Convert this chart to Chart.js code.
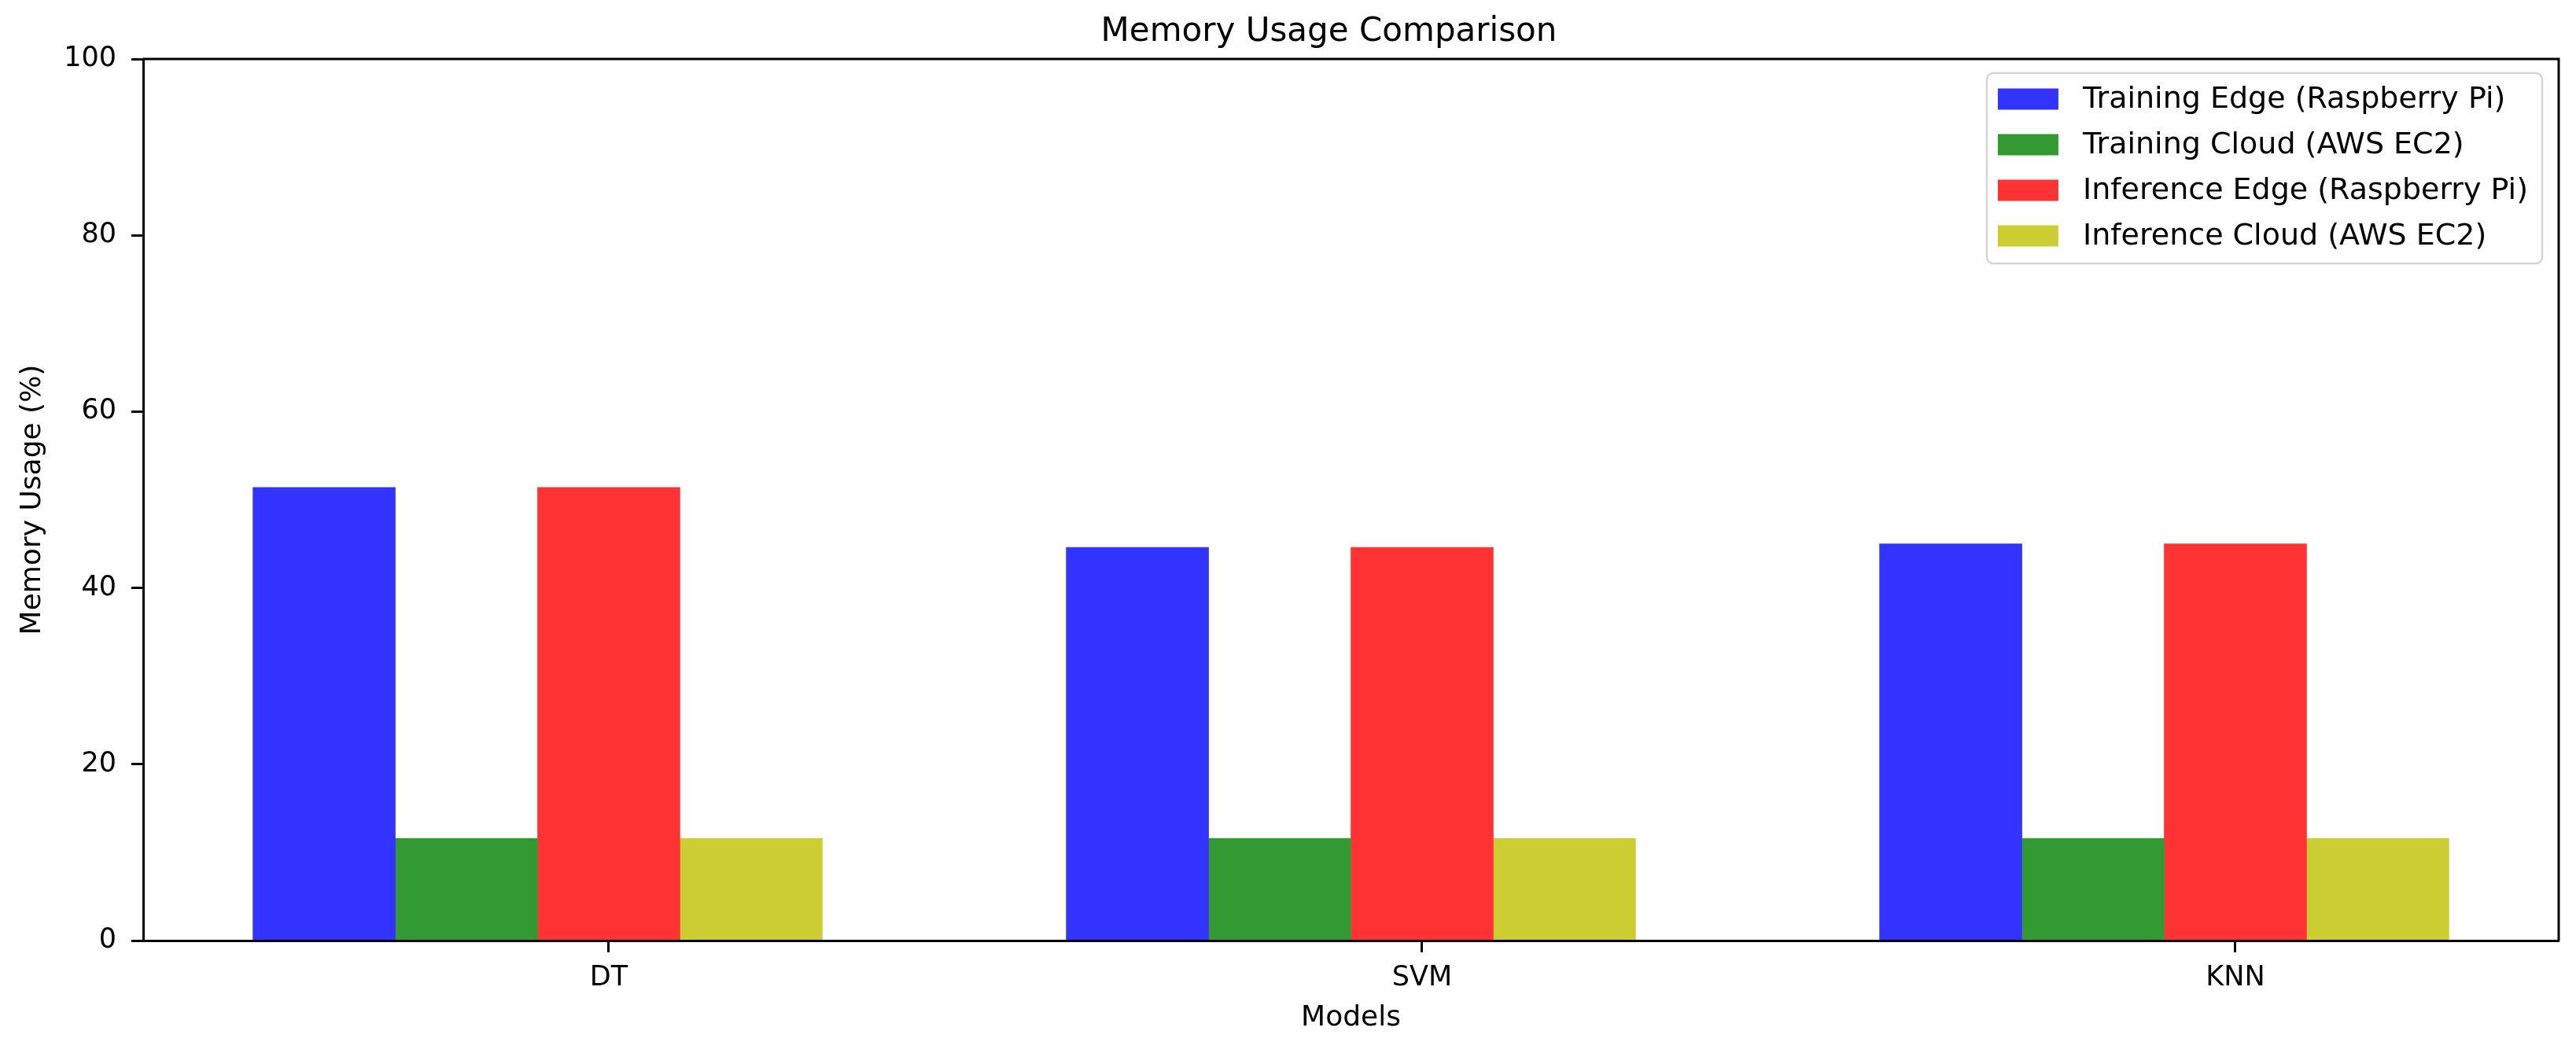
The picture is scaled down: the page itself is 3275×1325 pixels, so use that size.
<!DOCTYPE html>
<html>
<head>
<meta charset="utf-8">
<title>Memory Usage Comparison</title>
<script src="https://cdn.jsdelivr.net/npm/chart.js@4.4.1/dist/chart.umd.min.js"></script>
<style>
  html, body { margin: 0; padding: 0; background: #ffffff; }
  canvas { display: block; }
</style>
</head>
<body>
<canvas id="memoryChart" width="3275" height="1325"></canvas>
<script>
// Chart data
const models = ['DT', 'SVM', 'KNN'];
const seriesNames = [
    'Training Edge (Raspberry Pi)',
    'Training Cloud (AWS EC2)',
    'Inference Edge (Raspberry Pi)',
    'Inference Cloud (AWS EC2)'
];
const trainingEdge = [51.4, 44.6, 45.0];
const trainingCloud = [11.6, 11.6, 11.6];
const inferenceEdge = [51.4, 44.6, 45.0];
const inferenceCloud = [11.6, 11.6, 11.6];
const yTicks = [0, 20, 40, 60, 80, 100];
const chartTitle = 'Memory Usage Comparison';

const seriesColors = ['#3333ff', '#339933', '#ff3333', '#cccc33'];
const FONT = "'DejaVu Sans', sans-serif";

// bars sit side by side, third bar centred on the tick
const barWidth = 0.175;
const barOffsets = [-2, -1, 0, 1].map(k => k * barWidth);

// x range with a 5% margin like matplotlib
const lo = barOffsets[0] - barWidth / 2;
const hi = (models.length - 1) + barOffsets[3] + barWidth / 2;
const margin = (hi - lo) * 0.05;

function toPoints(values, offset) {
    return values.map((v, i) => ({ x: i + offset, y: v }));
}

const seriesValues = [trainingEdge, trainingCloud, inferenceEdge, inferenceCloud];

// title, plus top / right spines
const framePlugin = {
    id: 'frame',
    afterDraw(chart) {
        const { ctx, chartArea } = chart;
        ctx.save();
        ctx.strokeStyle = '#000000';
        ctx.lineWidth = 3;
        ctx.beginPath();
        ctx.moveTo(chartArea.left, chartArea.top);
        ctx.lineTo(chartArea.right, chartArea.top);
        ctx.lineTo(chartArea.right, chartArea.bottom);
        ctx.stroke();

        ctx.font = '42px ' + FONT;
        ctx.fillStyle = '#000000';
        ctx.textAlign = 'center';
        ctx.textBaseline = 'alphabetic';
        ctx.fillText(chartTitle, (chartArea.left + chartArea.right) / 2 - 28, chartArea.top - 23);
        ctx.restore();
    }
};

// matplotlib style legend in the upper right corner
const legendPlugin = {
    id: 'boxLegend',
    afterDraw(chart) {
        const { ctx, chartArea } = chart;
        const datasets = chart.data.datasets;
        ctx.save();
        ctx.font = '38px ' + FONT;
        let maxText = 0;
        datasets.forEach(ds => {
            maxText = Math.max(maxText, ctx.measureText(ds.label).width);
        });
        const patchW = 77, patchH = 27, rowGap = 58;
        const padL = 14, gap = 31, padR = 18;
        const boxW = padL + patchW + gap + maxText + padR;
        const boxH = 242;
        const boxX = chartArea.right - 21 - boxW;
        const boxY = chartArea.top + 18;

        ctx.beginPath();
        ctx.roundRect(boxX, boxY, boxW, boxH, 8);
        ctx.fillStyle = 'rgba(255,255,255,0.8)';
        ctx.fill();
        ctx.strokeStyle = '#d6d6d6';
        ctx.lineWidth = 2.5;
        ctx.stroke();

        datasets.forEach((ds, i) => {
            const cy = boxY + 33 + i * rowGap;
            ctx.fillStyle = ds.backgroundColor;
            ctx.fillRect(boxX + padL, cy - patchH / 2, patchW, patchH);
            ctx.fillStyle = '#000000';
            ctx.textBaseline = 'middle';
            ctx.textAlign = 'left';
            ctx.fillText(ds.label, boxX + padL + patchW + gap, cy + 1);
        });
        ctx.restore();
    }
};

const ctx = document.getElementById('memoryChart').getContext('2d');
const memoryChart = new Chart(ctx, {
    type: 'bar',
    data: {
        datasets: seriesNames.map((name, s) => ({
            label: name,
            data: toPoints(seriesValues[s], barOffsets[s]),
            backgroundColor: seriesColors[s],
            borderWidth: 0,
            grouped: false,
            barPercentage: 1,
            categoryPercentage: 1
        }))
    },
    options: {
        responsive: false,
        animation: false,
        layout: {
            padding: { left: 0, right: 22, top: 75, bottom: 0 }
        },
        plugins: {
            legend: { display: false },
            tooltip: { enabled: false },
            title: { display: false }
        },
        scales: {
            x: {
                type: 'linear',
                offset: false,
                min: lo - margin,
                max: hi + margin,
                afterBuildTicks(scale) {
                    scale.ticks = models.map((m, i) => ({ value: i }));
                },
                afterFit(scale) {
                    scale.height = 129;
                },
                ticks: {
                    autoSkip: false,
                    maxRotation: 0,
                    color: '#000000',
                    padding: 12,
                    font: { family: FONT, size: 35 },
                    callback: function(value) {
                        return models[value];
                    }
                },
                grid: {
                    display: true,
                    drawOnChartArea: false,
                    offset: false,
                    tickLength: 15,
                    tickWidth: 3,
                    tickColor: '#000000'
                },
                border: { display: true, color: '#000000', width: 3, z: 1 },
                title: {
                    display: true,
                    text: 'Models',
                    color: '#000000',
                    font: { family: FONT, size: 36 },
                    padding: { top: 0, bottom: 9 }
                }
            },
            y: {
                min: 0,
                max: 100,
                afterBuildTicks(scale) {
                    scale.ticks = yTicks.map(v => ({ value: v }));
                },
                afterFit(scale) {
                    scale.width = 182;
                },
                ticks: {
                    color: '#000000',
                    padding: 19,
                    font: { family: FONT, size: 35 }
                },
                grid: {
                    display: true,
                    drawOnChartArea: false,
                    tickLength: 15,
                    tickWidth: 3,
                    tickColor: '#000000'
                },
                border: { display: true, color: '#000000', width: 3, z: 1 },
                title: {
                    display: true,
                    text: 'Memory Usage (%)',
                    color: '#000000',
                    font: { family: FONT, size: 36 },
                    padding: { top: 20, bottom: 0 }
                }
            }
        }
    },
    plugins: [framePlugin, legendPlugin]
});
</script>
</body>
</html>
